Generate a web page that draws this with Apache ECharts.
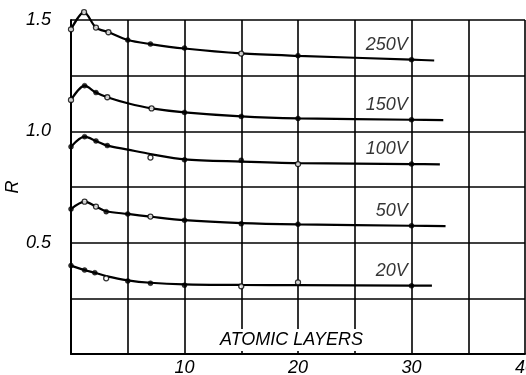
<!DOCTYPE html>
<html>
<head>
<meta charset="utf-8">
<script src="https://cdn.jsdelivr.net/npm/echarts@6/dist/echarts.min.js"></script>
<style>
html,body{margin:0;padding:0;background:#fff;}
#chart{width:526px;height:375px;}
</style>
</head>
<body>
<div id="chart"></div>
<script>
// ---- data ----
const xTickLabels = [10, 20, 30, 40];
const yTickLabels = ['0.5', '1.0', '1.5'];
const voltages = ['250V', '150V', '100V', '50V', '20V'];

// measured points: [atomic layers, R, hollow(1)/filled(0)]
const p250 = [[0,1.458,1],[1.15,1.535,1],[2.2,1.466,1],[3.3,1.445,1],[5,1.41,0],[7,1.392,0],[10,1.374,0],[15,1.349,1],[20,1.34,0],[30,1.322,0]];
const p150 = [[0,1.141,1],[1.2,1.205,0],[2.2,1.174,0],[3.2,1.153,1],[7.1,1.103,1],[10,1.085,0],[15,1.067,0],[20,1.058,0],[30,1.052,0]];
const p100 = [[0,0.931,0],[1.2,0.976,0],[2.2,0.957,0],[3.2,0.936,0],[7,0.882,1],[10,0.872,0],[15,0.870,0],[20,0.853,1],[30,0.853,0]];
const p50  = [[0,0.651,0],[1.2,0.684,1],[2.2,0.662,1],[3.1,0.639,0],[5,0.629,0],[7,0.617,1],[10,0.601,0],[15,0.585,0],[20,0.583,0],[30,0.576,0]];
const p20  = [[0,0.397,0],[1.2,0.377,0],[2.1,0.365,0],[3.1,0.340,1],[5,0.328,0],[7,0.318,0],[10,0.309,0],[15,0.304,1],[20,0.322,1],[30,0.306,0]];

// drawn curves: [atomic layers, R]
const c250 = [[0,1.458],[1.15,1.535],[2.2,1.466],[3.3,1.445],[5,1.41],[7,1.392],[10,1.372],[15,1.35],[20,1.339],[30,1.322],[32,1.318]];
const c150 = [[0,1.141],[1.2,1.205],[2.2,1.174],[3.2,1.153],[5,1.126],[7.1,1.103],[10,1.085],[15,1.067],[20,1.058],[30,1.052],[32.8,1.05]];
const c100 = [[0,0.931],[1.2,0.976],[2.2,0.957],[3.2,0.936],[5,0.918],[7,0.898],[10,0.874],[15,0.864],[20,0.857],[30,0.853],[32.5,0.852]];
const c50  = [[0,0.651],[1.2,0.684],[2.2,0.662],[3.1,0.641],[5,0.629],[7,0.617],[10,0.601],[15,0.588],[20,0.582],[30,0.576],[33,0.574]];
const c20  = [[0,0.397],[1.2,0.377],[2.1,0.365],[3.1,0.350],[5,0.331],[7,0.320],[10,0.313],[15,0.310],[20,0.309],[30,0.307],[31.8,0.307]];

const pointSets = [p250, p150, p100, p50, p20];
const curveSets = [c250, c150, c100, c50, c20];

// ---- chart ----
const INK = '#000';
const FONT = 'Liberation Sans';
const chart = echarts.init(document.getElementById('chart'), null, {renderer: 'canvas'});

const series = [];
voltages.forEach((name, i) => {
  series.push({
    name: name,
    type: 'line',
    data: curveSets[i],
    smooth: 0.3,
    showSymbol: false,
    symbol: 'none',
    clip: false,
    lineStyle: {color: INK, width: 2.2},
    z: 3,
    silent: true
  });
  series.push({
    name: name,
    type: 'scatter',
    clip: false,
    z: 4,
    symbolSize: 5,
    data: pointSets[i].map(p => ({
      value: [p[0], p[1]],
      itemStyle: p[2] ? {color: '#fff', borderColor: INK, borderWidth: 1.3} : {color: INK, borderColor: INK, borderWidth: 0.5},
      label: p[0] === 30 ? {
        show: true,
        formatter: name,
        position: [-1, -3],
        align: 'right',
        verticalAlign: 'bottom',
        fontFamily: FONT,
        fontStyle: 'italic',
        fontSize: 18,
        color: INK
      } : {show: false}
    }))
  });
});

const option = {
  animation: false,
  backgroundColor: '#fff',
  grid: {left: 71, right: 1, top: 20, bottom: 21, containLabel: false, outerBoundsMode: 'none'},
  xAxis: {
    type: 'value',
    min: 0, max: 40, interval: 5,
    axisLine: {show: true, lineStyle: {color: INK, width: 2}},
    axisTick: {show: false},
    splitLine: {show: true, lineStyle: {color: INK, width: 1.6}},
    axisLabel: {
      margin: 5,
      fontFamily: FONT, fontStyle: 'italic', fontSize: 18, color: INK,
      formatter: v => xTickLabels.indexOf(Math.round(v)) >= 0 && Math.abs(v - Math.round(v)) < 1e-6 ? String(Math.round(v)) : ''
    }
  },
  yAxis: {
    type: 'value',
    min: 0, max: 1.5, interval: 0.25,
    name: 'R',
    nameLocation: 'middle',
    nameRotate: 90,
    nameGap: 49,
    nameMoveOverlap: false,
    nameTextStyle: {fontFamily: FONT, fontStyle: 'italic', fontSize: 18, color: INK},
    axisLine: {show: true, lineStyle: {color: INK, width: 2}},
    axisTick: {show: false},
    splitLine: {show: true, lineStyle: {color: INK, width: 1.6}},
    axisLabel: {
      margin: 20,
      fontFamily: FONT, fontStyle: 'italic', fontSize: 18, color: INK,
      formatter: v => {
        const s = v.toFixed(1);
        return (yTickLabels.indexOf(s) >= 0 && Math.abs(v * 2 - Math.round(v * 2)) < 1e-6) ? s : '';
      }
    }
  },
  graphic: [{
    type: 'text',
    left: 216,
    top: 329,
    z: 10,
    style: {
      text: 'ATOMIC LAYERS',
      font: 'italic 18px "Liberation Sans"',
      fill: INK,
      backgroundColor: '#fff',
      padding: [2, 4, 2, 4]
    }
  }],
  series: series
};
chart.setOption(option);
</script>
</body>
</html>
